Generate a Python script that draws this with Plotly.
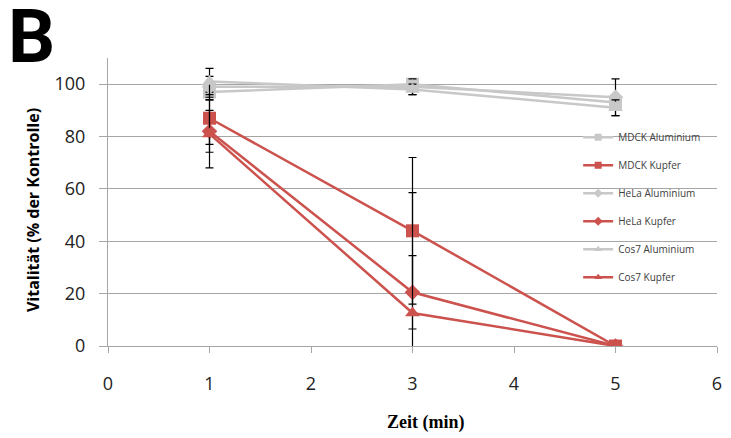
import plotly.graph_objects as go

times = [1, 3, 5]

series_names = ["MDCK Aluminium", "MDCK Kupfer", "HeLa Aluminium",
                "HeLa Kupfer", "Cos7 Aluminium", "Cos7 Kupfer"]

mdck_alu = [97, 100, 93]
mdck_alu_err = [3, 2, 3]
mdck_cu = [87, 44, 0]
mdck_cu_err = [10, 28, 0]
hela_alu = [99, 99, 95]
hela_alu_err = [4, 3, 7]
hela_cu = [82, 20.5, 0]
hela_cu_err = [8, 14, 0]
cos7_alu = [101, 98, 91]
cos7_alu_err = [5, 2, 3]
cos7_cu = [81, 12.6, 0]
cos7_cu_err = [13, 46, 0]

x_ticks = [0, 1, 2, 3, 4, 5, 6]
y_ticks = [0, 20, 40, 60, 80, 100]

GREY = "#C8C8C8"
RED = "#CC524E"

data = [
    (mdck_alu, mdck_alu_err, GREY, "square", 13),
    (mdck_cu, mdck_cu_err, RED, "square", 13),
    (hela_alu, hela_alu_err, GREY, "diamond", 12),
    (hela_cu, hela_cu_err, RED, "diamond", 12),
    (cos7_alu, cos7_alu_err, GREY, "triangle-up", 13),
    (cos7_cu, cos7_cu_err, RED, "triangle-up", 13),
]

fig = go.Figure()
for name, (vals, err, col, sym, sz) in zip(series_names, data):
    fig.add_trace(go.Scatter(
        x=times, y=vals, name=name, mode="lines+markers",
        showlegend=False,
        line=dict(color=col, width=2.5),
        marker=dict(color=col, symbol=sym, size=sz),
        error_y=dict(type="data", array=err, visible=True,
                     color="black", thickness=1.2, width=4),
    ))
# legend-only entries with small markers
for name, (vals, err, col, sym, sz) in zip(series_names, data):
    fig.add_trace(go.Scatter(
        x=[None], y=[None], name=name, mode="lines+markers",
        legendgroup=name,
        line=dict(color=col, width=2.5),
        marker=dict(color=col, symbol=sym, size=7),
    ))

# page body has an 8px margin, so the figure is 8px smaller and margins shifted
fig.update_layout(
    width=723, height=430,
    margin=dict(l=100, r=14, t=50, b=92),
    paper_bgcolor="white", plot_bgcolor="white",
    font=dict(family="Open Sans", color="#222222"),
    showlegend=True,
    legend=dict(x=0.772, y=0.775, xanchor="left", yanchor="top",
                font=dict(size=10, color="#404040"),
                bgcolor="rgba(255,255,255,0)",
                tracegroupgap=9, itemwidth=30),
    annotations=[
        dict(text="<b>B</b>", x=-0.168, y=1.075, xref="paper", yref="paper",
             xanchor="left", yanchor="middle", showarrow=False,
             font=dict(family="Roboto", size=74, color="black")),
        dict(text="<b>Vitalität (% der Kontrolle)</b>", x=(33 - 108) / 609, y=0.472,
             xref="paper", yref="paper", xanchor="center", yanchor="middle",
             textangle=-90, showarrow=False,
             font=dict(family="Open Sans", size=16, color="black")),
        dict(text="<b>Zeit (min)</b>", x=0.522, y=-0.264,
             xref="paper", yref="paper", xanchor="center", yanchor="middle",
             showarrow=False,
             font=dict(family="Liberation Serif", size=18, color="black")),
    ]
)

fig.update_xaxes(
    range=[0, 6], tickvals=x_ticks, ticktext=[str(v) for v in x_ticks],
    showgrid=False, showline=True, linecolor="#A6A6A6", linewidth=1,
    ticks="outside", ticklen=6, tickcolor="#A6A6A6",
    tickfont=dict(size=18, color="#222222"), ticklabelstandoff=15,
    zeroline=False, automargin=False,
)
fig.update_yaxes(
    range=[0, 110], tickvals=y_ticks,
    showgrid=True, gridcolor="#A6A6A6", gridwidth=1,
    showline=True, linecolor="#A6A6A6", linewidth=1,
    ticks="outside", ticklen=8, tickcolor="#A6A6A6",
    tickfont=dict(size=18, color="#222222"), ticklabelstandoff=10,
    zeroline=False, automargin=False,
)

fig.write_html("out.html")
